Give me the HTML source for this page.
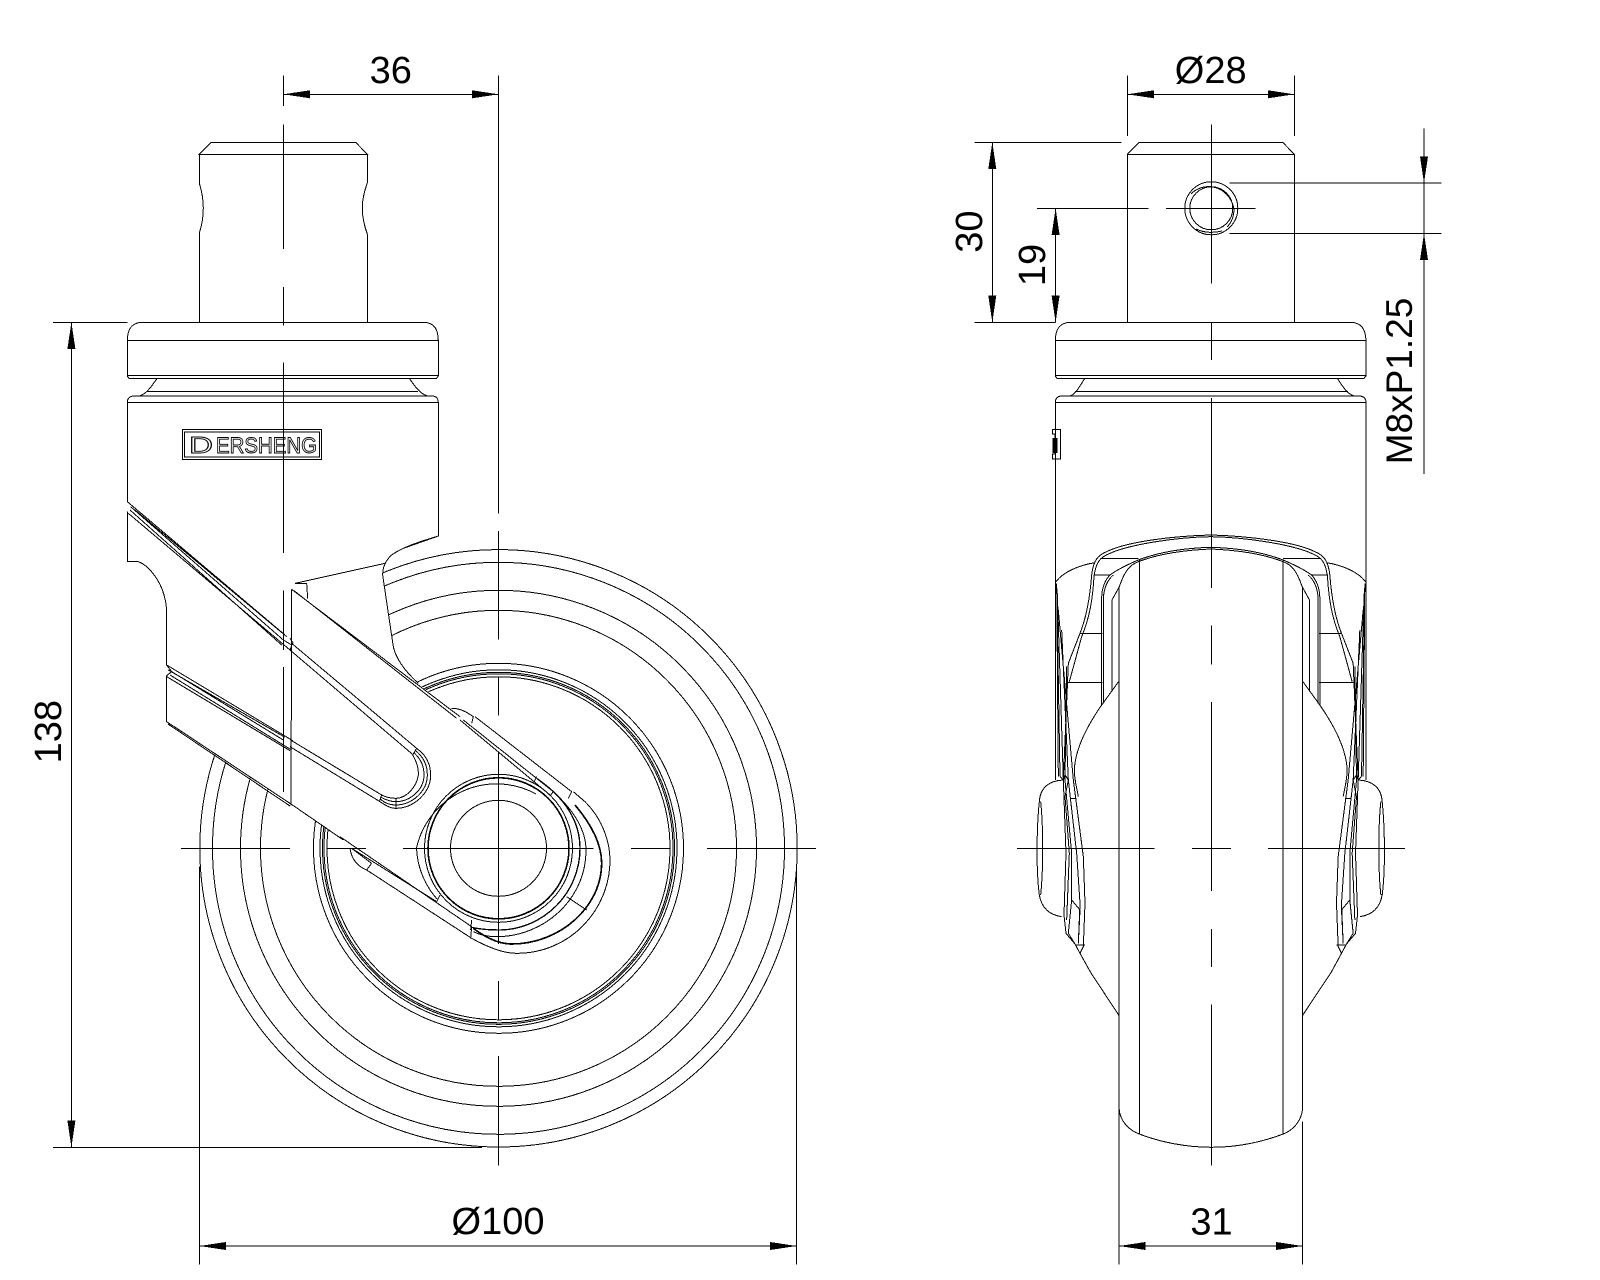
<!DOCTYPE html>
<html>
<head>
<meta charset="utf-8">
<style>
html,body{margin:0;padding:0;background:#fff;width:1600px;height:1280px;overflow:hidden}
svg{display:block}
text{font-family:"Liberation Sans",sans-serif;fill:#000}
</style>
</head>
<body>
<svg xmlns="http://www.w3.org/2000/svg" width="1600" height="1280" viewBox="0 0 1600 1280" fill="none" stroke="#000" stroke-width="1" shape-rendering="crispEdges">

<!-- LEFT VIEW: wheel -->
<g>
<circle cx="498.5" cy="848.3" r="298.7"/>
<circle cx="498.5" cy="848.3" r="286"/>
<circle cx="498.5" cy="848.3" r="258"/>
<circle cx="498.5" cy="848.3" r="238"/>
<circle cx="498.5" cy="848.3" r="185"/>
<circle cx="498.5" cy="848.3" r="178.5"/>
<circle cx="498.5" cy="848.3" r="176"/>
<circle cx="498.5" cy="848.3" r="174.5"/>
<circle cx="498.5" cy="848.3" r="171.5"/>
</g>

<!-- white mask for arm + fender + upper body -->
<path fill="#fff" stroke="none" d="M127.3 500 L438.3 500 L438.3 536 L403.3 548.3 L391.7 555 L385 563.3 L382.7 575 L388.3 613.3 L393.3 646.7 L398.3 660 L418 684 L451.7 708.3 L475 716.7 L571.7 791.7 C603 820 610 843 610 860 C610 910 570 953 517 953 C503 953 486 946 471.7 938.3 L366.7 870 C355 862 350 855 350 848.3 L340 836.7 L291 804 L166.7 723.3 L127.3 600 Z"/>

<!-- pin / flange / body -->
<path d="M199.3 154.3 L211 142.3 H355.7 L367.3 154.3 Z"/>
<path d="M199.3 154.3 V183 C202 192 203.3 200 203.3 208 C203.3 216 202 225 199.3 233 V322.3" />
<path d="M367.3 154.3 V183 C364 192 362.3 200 362.3 208 C362.3 216 364 225 367.3 234 V322.3"/>
<path d="M127.3 340.3 C127.5 330 131 322.3 143 322.3 H423 C435 322.3 438 330 438.3 340.3 V376 L436.5 378.3 H129 L127.3 376 Z"/>
<path d="M127.3 340.3 H438.3 M127.3 375.3 H438.3"/>
<path d="M157.3 378.3 C152 385 148 393 140 395.7 M409.3 378.3 C414 385 419 393 426.7 395.7 M147 391.3 H418"/>
<path d="M127.3 402.3 C127.5 398 130 396 134 396 H432 C436 396 438 398 438.3 402.3 M127.3 402.3 H438.3"/>
<path d="M127.3 402.3 V502 M438.3 402.3 V536"/>

<!-- logo -->
<rect x="182.3" y="429.5" width="139.4" height="29.8"/>
<rect x="184.5" y="431.8" width="135" height="25.4"/>
<text x="189" y="453" font-size="23" textLength="24" lengthAdjust="spacingAndGlyphs" style="fill:#fff;stroke:#000;stroke-width:.9">D</text>
<text x="216" y="452.8" font-size="22" textLength="101" lengthAdjust="spacingAndGlyphs" style="fill:#fff;stroke:#000;stroke-width:.9">ERSHENG</text>

<!-- arm, zoom-5 coordinates -->
<g transform="translate(120 500) scale(.33333)" stroke-width="3">
<path d="M22 5 L495 405 M32 20 L490 420 M30 30 L485 435 M25 40 L510 450"/>
<path d="M45 30 L500 410"/>
<path d="M22 35 V185 H55 C85 195 120 240 132 285 C138 305 140 320 140 340 V495 L155 515 L140 527 V665 L513 912 L670 1020"/>
<path d="M140 495 L490 705 M155 515 L490 720 M150 525 L490 735 M140 530 L510 752 M145 510 L495 712"/>
<path d="M144 672 L510 918"/>
<path d="M515 268 L513 916 M515 268 L1020 650 M522 272 L1010 655"/>
<path d="M525 250 L795 190 M525 250 H560 L563 295"/>
<path d="M22 0 V5"/>
<path d="M955 0 V108 C900 125 850 140 815 165 C798 180 788 200 788 225 L805 340 L820 440 C826 470 850 510 895 550"/>
<path d="M955 108 L850 145"/>
<path d="M515 430 L890 745 M510 450 L880 765 M515 722 L785 885 M510 740 L780 905"/>
<path d="M510 415 L520 430 M490 420 L515 435 M510 452 L516 432 M490 705 L518 722 M490 735 L515 750"/>
<path d="M890 745 C925 770 932 800 932 825 C932 880 880 925 827 925 C810 925 795 915 780 905"/>
<path d="M885 750 C915 775 922 800 922 825 C922 875 875 915 827 915 C810 915 795 910 782 898"/>
<path d="M882 758 C905 780 912 800 912 825 C912 870 870 905 827 905 C810 905 798 900 783 892"/>
<path d="M878 765 C890 785 896 805 895 825 C890 860 860 895 827 895 C808 895 795 890 785 885"/>
<path d="M890 745 L878 765 M785 885 L778 905 M828 895 V925"/>
</g>

<!-- arm near hub, zoom-6 coordinates -->
<g transform="translate(340 720) scale(.33333)" stroke-width="3">
<path d="M335 -35 C365 -35 385 -20 400 -10 L395 10 M405 -10 L695 215"/>
<path d="M35 385 L290 545"/>
<path d="M80 450 L395 655 M0 350 L395 620 M35 385 L95 430 M30 385 C35 420 55 440 80 450 M95 430 L80 450 M395 620 L392 655"/>
<path d="M370 0 L640 215 M360 0 L630 225"/>
<path d="M695 215 L685 235 M590 170 L580 190 M640 215 L630 228 M290 545 L300 525 M395 600 L392 630 M680 530 L740 570"/>
<path d="M640 215 C700 270 738 330 738 390 C738 540 610 650 470 650 C445 650 420 645 400 635"/>
<path d="M590 175 C670 230 720 300 720 385 C720 520 610 628 480 630 C445 630 420 628 395 622" stroke-width="4"/>
<path d="M705 255 C760 320 785 380 785 430 C785 560 660 672 515 672 C480 672 440 655 400 625" stroke-width="5"/>
<path d="M700 215 L735 245 C790 300 810 370 810 420 C810 570 690 700 530 700 C490 700 440 680 395 655"/>
</g>

<!-- hub rings -->
<circle cx="498.5" cy="848.3" r="48"/>
<circle cx="498.5" cy="848.3" r="70.5" stroke-width="1.6"/>
<circle cx="498.5" cy="848.3" r="74"/>
<path d="M536 794 A82 82 0 0 0 416.5 848 A82 82 0 0 0 437 899"/>

<!-- LEFT VIEW: centre lines -->
<path d="M283.5 75.5 V106 M283.5 124.5 V249 M283.5 287 V325.7 M283.5 362.4 V553 M283.5 590.7 V650 M283.5 667 V792"/>
<path d="M498.5 75.5 V513.7 M498.5 531 V639.3 M498.5 676.7 V715.7 M498.5 752.7 V944 M498.5 980.8 V1019.6 M498.5 1056 V1165.7"/>
<path d="M181 848.3 H290 M327.5 848.3 H366 M403 848.3 H593.4 M631 848.3 H670 M707 848.3 H816"/>

<!-- LEFT VIEW: dims -->
<path d="M283.5 94.3 H498.5"/>
<path d="M71.4 322.3 V1147.3 M53 322.3 H127.3 M53 1147.3 H482"/>
<path d="M199.5 866.5 V1264.5 M796.5 866.5 V1264.5 M199.5 1246 H796.5"/>
<g fill="#000" stroke="none">
<polygon points="283.5,94.3 310,90.3 310,98.3"/>
<polygon points="498.5,94.3 472,90.3 472,98.3"/>
<polygon points="71.4,322.3 67.4,349 75.4,349"/>
<polygon points="71.4,1147.3 67.4,1120.5 75.4,1120.5"/>
<polygon points="199.5,1246 226,1242 226,1250"/>
<polygon points="796.5,1246 770,1242 770,1250"/>
</g>
<g stroke="none" font-size="38" text-anchor="middle">
<text x="390.8" y="83">36</text>
<text transform="translate(61 731.7) rotate(-90)" x="0" y="0">138</text>
<text x="498" y="1234">Ø100</text>
<text x="1210.7" y="83">Ø28</text>
<text transform="translate(982 231.6) rotate(-90)" x="0" y="0">30</text>
<text transform="translate(1045 265) rotate(-90)" x="0" y="0">19</text>
<text transform="translate(1412 381) rotate(-90)" x="0" y="0" font-size="37">M8xP1.25</text>
<text x="1211.5" y="1234.7">31</text>
</g>

<!-- RIGHT VIEW: pin/flange/body -->
<path d="M1127.4 322.3 V154.3 L1139 142.3 H1282.7 L1294.3 154.3 V322.3 M1127.4 154.3 H1294.3"/>
<path d="M1055.3 340.3 C1055.5 330 1059 322.3 1071 322.3 H1350 C1362 322.3 1365.5 330 1366 340.3 V376 L1364 378.3 H1057 L1055.3 376 Z M1055.3 340.3 H1366 M1055.3 375.3 H1366"/>
<path d="M1085 378.3 C1080 385 1077 393 1070.7 395.7 M1337.3 378.3 C1342 385 1346 393 1353.3 395.7 M1075 391.3 H1348"/>
<path d="M1055.3 402.3 C1055.5 398 1058 396 1062 396 H1359 C1363 396 1365.8 398 1366 402.3 M1055.3 402.3 H1366"/>
<path d="M1055.3 402.3 V780 M1366 402.3 V780"/>
<path d="M1052.5 429.5 H1060.7 V459 H1052.5 V454 H1055 V434 H1052.5 Z"/>
<rect x="1052.5" y="438" width="5" height="15" fill="#000" stroke="none"/>

<!-- hole -->
<circle cx="1211.3" cy="208.3" r="26.5"/>
<circle cx="1211.3" cy="208.3" r="21.5"/>
<path d="M1191 194 C1198 187 1206 186 1213 187 C1224 189 1232 198 1234 209 C1234 215 1232 222 1227 227 M1196 229 C1204 233 1214 233 1222 231"/>

<!-- RIGHT VIEW: half fork -->
<g id="half" transform="translate(1030 520) scale(.33333)" stroke-width="3">
<path d="M543 45 C430 48 290 65 230 95 C205 105 190 120 185 165 C180 230 170 290 150 340 L115 430"/>
<path d="M543 50 C430 52 295 75 240 100 C210 112 198 125 192 170 C188 240 178 295 155 350 L118 485"/>
<path d="M543 82 C470 84 390 95 325 120 C290 135 260 150 240 165 C225 180 215 205 215 235 V555"/>
<path d="M543 87 C470 90 390 100 325 125 C300 135 285 150 268 200 L246 240 V515"/>
<path d="M220 235 C222 205 232 180 250 165 M220 235 V550"/>
<path d="M268 482 L215 555 C170 620 135 690 133 750 C133 780 140 800 145 830"/>
<path d="M190 165 H240 M212 115 H325 M150 340 H218 M113 487 H218"/>
<path d="M78 185 C100 155 150 135 195 128"/>
<path d="M80 190 L85 770 M80 190 L90 770 M82 220 L100 780 L108 1000 L102 1185 L108 1240 L135 1272 L150 1300"/>
<path d="M85 270 L130 780 L160 1010 L165 1150 L160 1280 L150 1300"/>
<path d="M95 330 L115 780 L140 1000 L150 1150 L145 1270"/>
<path d="M115 430 L100 780 M110 440 L105 780 L125 1000 L125 1140 L115 1240 L135 1272"/>
<path d="M90 770 L100 780 L105 765 L115 780 L105 830 L118 1000 L110 1200"/>
<path d="M120 835 H140 M135 1275 H165 M125 1140 L150 1170 M150 1170 L145 1270"/>
<path d="M100 780 C55 782 30 805 28 845 C20 920 18 1050 28 1125 C35 1165 60 1185 95 1190"/>
<path d="M32 845 C40 920 40 1050 32 1125"/>
</g>
<use href="#half" transform="translate(2421.5 0) scale(-1 1)"/>

<!-- RIGHT VIEW: wheel -->
<path d="M1119.2 588 V1109.4 C1120 1120 1128 1130 1139.3 1134 C1160 1142 1186 1147.3 1211.5 1147.3 C1237 1147.3 1262 1142 1283.2 1134 C1294 1130 1301.5 1120 1302.5 1109.4 V588"/>
<path d="M1139.3 560 V1134 M1283.2 560 V1134"/>
<path d="M1080 953.3 L1090.8 972.7 L1119 1015.5 M1341.5 953.3 L1331 972.7 L1302.5 1015.5"/>
<path d="M1119.2 1109.4 V1264.5 M1302.5 1121.6 V1264.5"/>

<!-- RIGHT VIEW: centre lines -->
<path d="M1211.5 124.5 V283.7 M1211.5 322 V360 M1211.5 398 V587.8 M1211.5 625.7 V664.5 M1211.5 702 V891 M1211.5 929 V967 M1211.5 1004.5 V1165.7"/>
<path d="M1016.8 848.3 H1154.6 M1191.8 848.3 H1231 M1267.9 848.3 H1405"/>
<path d="M1165.8 208.3 H1255.6"/>

<!-- RIGHT VIEW: dims -->
<path d="M1127.4 75.5 V136 M1294.3 75.5 V136 M1127.4 94.3 H1294.3"/>
<path d="M974.5 142.3 H1121.4 M974.5 322.3 H1055.3 M992.3 142.3 V322.3"/>
<path d="M1037 208.3 H1148.5 M1055.6 208.3 V322.3"/>
<path d="M1229.3 183 H1441.3 M1229.3 233.3 H1441.3 M1424 128.6 V474"/>
<path d="M1119.2 1246 H1302.5"/>
<g fill="#000" stroke="none">
<polygon points="1127.4,94.3 1154,90.3 1154,98.3"/>
<polygon points="1294.3,94.3 1268,90.3 1268,98.3"/>
<polygon points="992.3,142.3 988.3,169 996.3,169"/>
<polygon points="992.3,322.3 988.3,295.5 996.3,295.5"/>
<polygon points="1055.6,208.3 1051.6,235 1059.6,235"/>
<polygon points="1055.6,322.3 1051.6,295.5 1059.6,295.5"/>
<polygon points="1424,183 1420,156.5 1428,156.5"/>
<polygon points="1424,233.3 1420,260 1428,260"/>
<polygon points="1119.2,1246 1145.5,1242 1145.5,1250"/>
<polygon points="1302.5,1246 1276,1242 1276,1250"/>
</g>
</svg>
</body>
</html>
